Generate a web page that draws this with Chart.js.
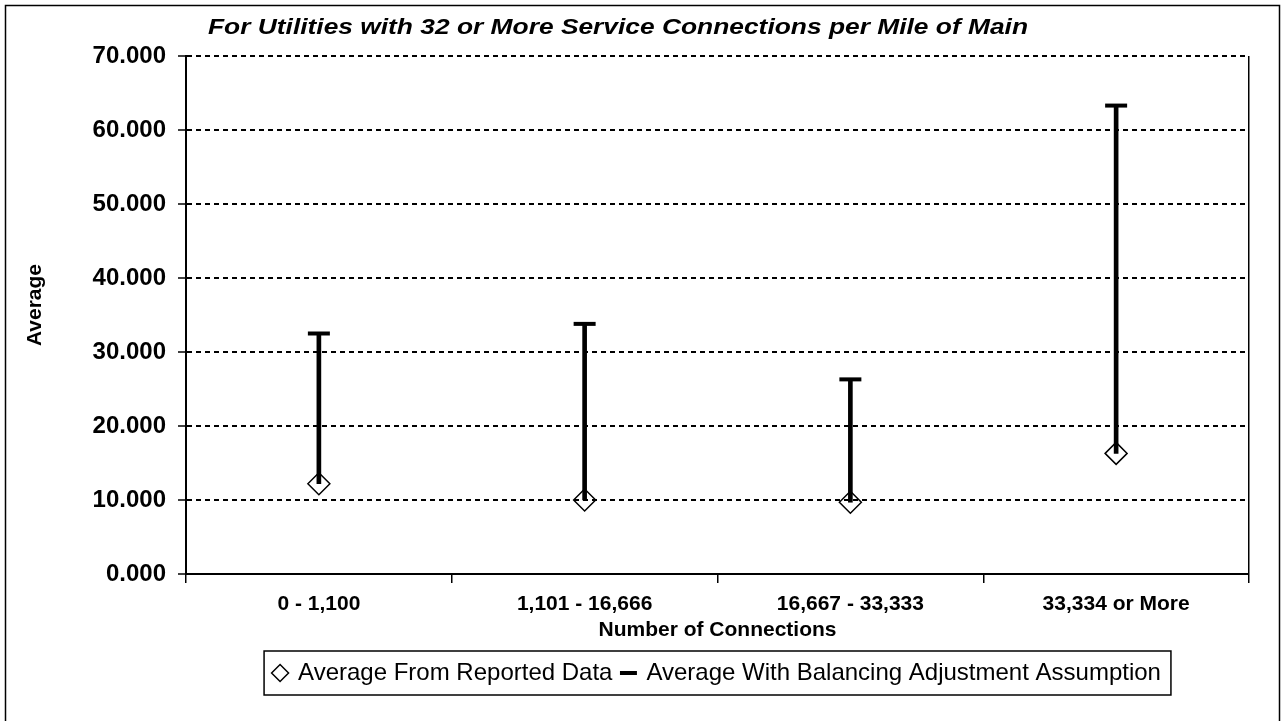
<!DOCTYPE html>
<html>
<head>
<meta charset="utf-8">
<script src="https://cdn.jsdelivr.net/npm/chart.js@4"></script>
<style>
  html, body { margin: 0; padding: 0; background: #fff; }
  #wrap { width: 1285px; height: 721px; }
</style>
</head>
<body>
<div id="wrap"><canvas id="chart"></canvas></div>
<script>
const categories = ["0 - 1,100", "1,101 - 16,666", "16,667 - 33,333", "33,334 or More"];
const reportedAvg = [12.2, 10.0, 9.7, 16.3];
const balancedAvg = [32.5, 33.8, 26.3, 63.3];
const yTicks = [0, 10, 20, 30, 40, 50, 60, 70];
const chartTitle = "For Utilities with 32 or More Service Connections per Mile of Main";
const yTitle = "Average";
const xTitle = "Number of Connections";

const FONT = "Arial, 'Liberation Sans', sans-serif";

// outer frame, chart title, y title and the box round the legend
const extras = {
  id: "extras",
  afterDraw(chart) {
    const ctx = chart.ctx;
    ctx.save();
    ctx.strokeStyle = "#000";
    ctx.lineWidth = 1.5;
    ctx.strokeRect(5.5, 5.5, chart.width - 11, chart.height + 10);

    ctx.fillStyle = "#000";
    ctx.textAlign = "center";
    ctx.textBaseline = "middle";

    // the title is set wide in the original, so stretch it a bit
    ctx.save();
    ctx.font = "italic bold 22px " + FONT;
    const tw = ctx.measureText(chartTitle).width;
    ctx.translate(618, 28);
    ctx.scale(820 / tw, 1);
    ctx.fillText(chartTitle, 0, 0);
    ctx.restore();

    ctx.save();
    ctx.translate(35, 305);
    ctx.rotate(-Math.PI / 2);
    ctx.font = "bold 21px " + FONT;
    ctx.fillText(yTitle, 0, 0);
    ctx.restore();

    const boxes = chart.legend.legendHitBoxes;
    if (boxes && boxes.length) {
      const l = Math.min(...boxes.map(b => b.left)) - 10;
      const r = Math.max(...boxes.map(b => b.left + b.width)) + 10;
      const t = Math.min(...boxes.map(b => b.top)) - 10;
      const btm = Math.max(...boxes.map(b => b.top + b.height)) + 10;
      ctx.lineWidth = 1.5;
      ctx.strokeRect(l, t, r - l, btm - t);
    }
    ctx.restore();
  }
};

const ctx = document.getElementById("chart").getContext("2d");
const chart = new Chart(ctx, {
  data: {
    labels: categories,
    datasets: [
      {
        type: "bar",
        label: "range",
        data: categories.map((c, i) => [reportedAvg[i], balancedAvg[i]]),
        backgroundColor: "#000",
        barThickness: 4,
        order: 3
      },
      {
        type: "line",
        label: "Average From Reported Data",
        data: reportedAvg,
        showLine: false,
        pointStyle: "rectRot",
        pointRadius: 11,
        pointHoverRadius: 11,
        pointBorderWidth: 1.5,
        borderWidth: 1.5,
        borderColor: "#000",
        pointBackgroundColor: "rgba(0,0,0,0)",
        backgroundColor: "rgba(0,0,0,0)",
        order: 1
      },
      {
        type: "line",
        label: "Average With Balancing Adjustment Assumption",
        data: balancedAvg,
        showLine: false,
        pointStyle: "line",
        pointRadius: 11,
        pointHoverRadius: 11,
        pointBorderWidth: 4,
        borderWidth: 4,
        borderColor: "#000",
        backgroundColor: "#000",
        order: 2
      }
    ]
  },
  options: {
    responsive: true,
    maintainAspectRatio: false,
    animation: false,
    layout: { padding: { left: 6, right: 36, top: 56, bottom: 26 } },
    plugins: {
      title: { display: false },
      tooltip: { enabled: false },
      legend: {
        position: "bottom",
        fullSize: false,
        labels: {
          usePointStyle: true,
          boxWidth: 12,
          boxHeight: 12,
          padding: 10,
          color: "#000",
          font: { family: FONT, size: 24 },
          filter: item => item.datasetIndex !== 0
        }
      }
    },
    scales: {
      x: {
        offset: true,
        ticks: { color: "#000", padding: 9, font: { family: FONT, size: 21, weight: "bold" } },
        grid: {
          offset: true,
          color: c => (c.tick ? "rgba(0,0,0,0)" : "#000"),
          lineWidth: 1.5,
          tickColor: "#000",
          tickLength: 9,
          tickWidth: 1.5
        },
        border: { color: "#000", width: 2 },
        title: {
          display: true,
          text: xTitle,
          color: "#000",
          padding: { top: 0, bottom: 8 },
          font: { family: FONT, size: 21, weight: "bold" }
        },
        afterFit: s => { s.height = 77; }
      },
      y: {
        min: 0,
        max: 70,
        afterBuildTicks: s => { s.ticks = yTicks.map(v => ({ value: v })); },
        ticks: {
          color: "#000",
          padding: 12,
          font: { family: FONT, size: 24, weight: "bold" },
          callback: v => Number(v).toFixed(3)
        },
        grid: {
          color: c => (c.tick && c.tick.value === 0 ? "rgba(0,0,0,0)" : "#000"),
          lineWidth: 2,
          tickColor: "#000",
          tickLength: 8,
          tickWidth: 1.5
        },
        border: { color: "#000", width: 2, dash: [5, 4] },
        afterFit: s => { s.width = 180; }
      }
    }
  },
  plugins: [extras]
});
</script>
</body>
</html>
